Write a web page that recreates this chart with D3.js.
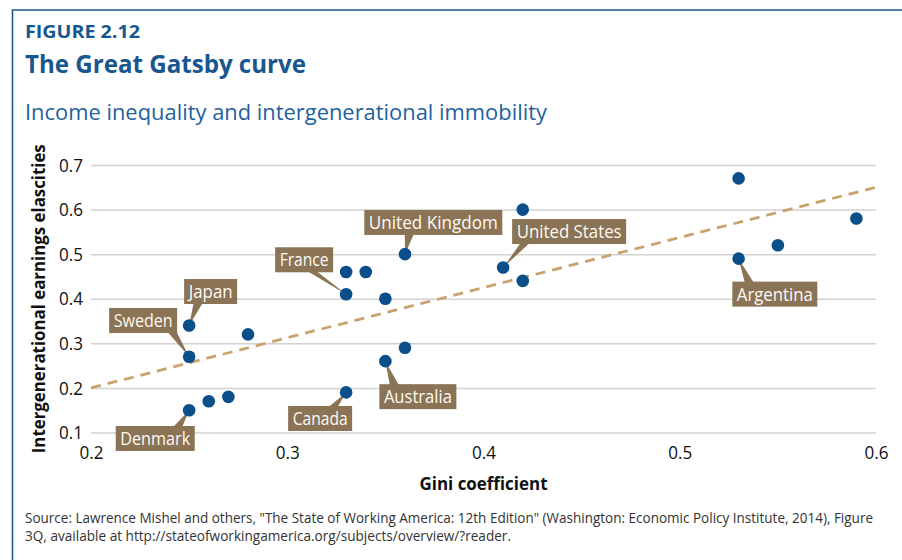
<!DOCTYPE html>
<html>
<head>
<meta charset="utf-8">
<script src="https://cdn.jsdelivr.net/npm/d3@7"></script>
<style>
  html, body { margin: 0; padding: 0; background: #fff; }
  svg { display: block; }
  text { font-family: "Open Sans", "Noto Sans", sans-serif; }
</style>
</head>
<body>
<svg id="chart" width="902" height="560"></svg>
<script>
// ---------- data ----------
const gini =       [0.25, 0.25, 0.25, 0.26, 0.27, 0.28, 0.33, 0.33, 0.33, 0.34, 0.35, 0.35, 0.36, 0.36, 0.41, 0.42, 0.42, 0.53, 0.53, 0.55, 0.59];
const elasticity = [0.34, 0.27, 0.15, 0.17, 0.18, 0.32, 0.46, 0.41, 0.19, 0.46, 0.40, 0.26, 0.50, 0.29, 0.47, 0.60, 0.44, 0.67, 0.49, 0.52, 0.58];
const countryLabels = ["Japan", "Sweden", "Denmark", "", "", "", "", "France", "Canada", "", "", "Australia", "United Kingdom", "", "United States", "", "", "", "Argentina", "", ""];
const trendGini = [0.2, 0.6];
const trendElasticity = [0.2, 0.65];
const xTickValues = [0.2, 0.3, 0.4, 0.5, 0.6];
const yTickValues = [0.1, 0.2, 0.3, 0.4, 0.5, 0.6, 0.7];
const figureLabel = "FIGURE 2.12";
const titleText = "The Great Gatsby curve";
const subtitleText = "Income inequality and intergenerational immobility";
const xAxisTitle = "Gini coefficient";
const yAxisTitle = "Intergenerational earnings elascities";
const sourceLines = [
  "Source: Lawrence Mishel and others, \"The State of Working America: 12th Edition\" (Washington: Economic Policy Institute, 2014), Figure",
  "3Q, available at http://stateofworkingamerica.org/subjects/overview/?reader."
];

// ---------- layout (label callout placement, px offsets from the dot) ----------
const calloutLayout = {
  "Japan":          { dx: -5,   dy: -46.5, w: 53,  ax: 14, edge: "bottom" },
  "Sweden":         { dx: -80,  dy: -48.7, w: 68,  ax: 63, edge: "bottom" },
  "France":         { dx: -71,  dy: -47,   w: 58,  ax: 37, edge: "bottom" },
  "Denmark":        { dx: -73.4,dy: 15.8,  w: 79,  ax: 62, edge: "top" },
  "Canada":         { dx: -58,  dy: 13.6,  w: 64,  ax: 45, edge: "top" },
  "Australia":      { dx: -6,   dy: 23,    w: 77,  ax: 15, edge: "top" },
  "United Kingdom": { dx: -40.7,dy: -44.2, w: 138, ax: 45, edge: "bottom" },
  "United States":  { dx: 9,    dy: -48.5, w: 114, ax: 13, edge: "bottom" },
  "Argentina":      { dx: -6.3, dy: 23,    w: 85,  ax: 17, edge: "top" }
};

const BLUE = "#17568f";
const DOT = "#0a4e8a";
const BROWN = "#8b7355";
const TREND = "#c9a26f";
const GRID = "#d2d2d2";

const svg = d3.select("#chart");
const plot = { left: 91, right: 876, top: 165, bottom: 432.5 };

const x = d3.scaleLinear().domain([0.2, 0.6]).range([plot.left, plot.right]);
const y = d3.scaleLinear().domain([0.1, 0.7]).range([plot.bottom, plot.top]);

// frame border (top + left)
svg.append("path")
  .attr("d", `M12.5,560 L12.5,10 L902,10`)
  .attr("fill", "none").attr("stroke", "#1d5a90").attr("stroke-width", 1.6);

// headings
function fitText(sel, width) {
  sel.attr("textLength", width).attr("lengthAdjust", "spacingAndGlyphs");
  return sel;
}
fitText(svg.append("text").attr("x", 25).attr("y", 37.5)
  .attr("font-size", 18).attr("font-weight", 700).attr("fill", BLUE)
  .text(figureLabel), 115);
fitText(svg.append("text").attr("x", 25).attr("y", 73)
  .attr("font-size", 25).attr("font-weight", 700).attr("fill", BLUE)
  .text(titleText), 281);
fitText(svg.append("text").attr("x", 25).attr("y", 120)
  .attr("font-size", 22).attr("font-weight", 400).attr("fill", "#1f5f9e")
  .text(subtitleText), 522);

// gridlines + y tick labels
const yAxis = d3.axisLeft(y).tickValues(yTickValues).tickFormat(d3.format(".1f"))
  .tickSize(-(plot.right - plot.left)).tickPadding(8);
const gy = svg.append("g").attr("transform", `translate(${plot.left},0)`).call(yAxis);
gy.select(".domain").remove();
gy.selectAll(".tick line").attr("stroke", GRID).attr("stroke-width", 1.5);
gy.selectAll(".tick text").attr("font-size", 18).attr("fill", "#111")
  .attr("font-family", "'Open Sans', sans-serif")
  .attr("x", -8).attr("dy", "0.34em")
  .attr("textLength", 24).attr("lengthAdjust", "spacingAndGlyphs");

const xAxis = d3.axisBottom(x).tickValues(xTickValues).tickFormat(d3.format(".1f"))
  .tickSize(0).tickPadding(0);
const gx = svg.append("g").attr("transform", `translate(0,${plot.bottom})`).call(xAxis);
gx.select(".domain").remove();
gx.selectAll(".tick text").attr("font-size", 18).attr("fill", "#111")
  .attr("font-family", "'Open Sans', sans-serif")
  .attr("dy", null).attr("y", 26.5)
  .attr("textLength", 24).attr("lengthAdjust", "spacingAndGlyphs");

// axis titles
fitText(svg.append("text").attr("x", (plot.left + plot.right) / 2).attr("y", 489.5)
  .attr("text-anchor", "middle").attr("font-size", 18).attr("font-weight", 700).attr("fill", "#111")
  .text(xAxisTitle), 128);
fitText(svg.append("text")
  .attr("transform", `translate(45,${(plot.top + plot.bottom) / 2}) rotate(-90)`)
  .attr("text-anchor", "middle").attr("font-size", 18).attr("font-weight", 700).attr("fill", "#111")
  .text(yAxisTitle), 309);

// trend line
svg.append("line")
  .attr("x1", x(trendGini[0])).attr("y1", y(trendElasticity[0]))
  .attr("x2", x(trendGini[1])).attr("y2", y(trendElasticity[1]))
  .attr("stroke", TREND).attr("stroke-width", 2.8).attr("stroke-dasharray", "10 7");

const points = gini.map((g, i) => ({ g, e: elasticity[i], name: countryLabels[i] }));

// callout wedges (under dots)
const labelled = points.filter(p => p.name && calloutLayout[p.name]);
const boxH = 25;
labelled.forEach(p => {
  const L = calloutLayout[p.name];
  const px = x(p.g), py = y(p.e);
  const bx = px + L.dx, by = py + L.dy;
  const ey = L.edge === "bottom" ? by + boxH - 1 : by + 1;
  const ax = bx + L.ax;
  svg.append("path")
    .attr("d", `M${ax - 4.5},${ey} L${ax + 4.5},${ey} L${px},${py} Z`)
    .attr("fill", BROWN);
});

// dots
svg.append("g").selectAll("circle").data(points).join("circle")
  .attr("cx", d => x(d.g)).attr("cy", d => y(d.e)).attr("r", 6.3)
  .attr("fill", DOT);

// callout boxes
labelled.forEach(p => {
  const L = calloutLayout[p.name];
  const px = x(p.g), py = y(p.e);
  const bx = px + L.dx, by = py + L.dy;
  svg.append("rect").attr("x", bx).attr("y", by).attr("width", L.w).attr("height", boxH)
    .attr("fill", BROWN);
  svg.append("text").attr("x", bx + L.w / 2).attr("y", by + 19)
    .attr("text-anchor", "middle").attr("font-size", 19).attr("fill", "#fdfaf4")
    .attr("textLength", L.w - 9).attr("lengthAdjust", "spacingAndGlyphs")
    .text(p.name);
});

// source (condensed horizontally to match the original's narrow face)
const srcScale = 0.86;
const srcG = svg.append("g").attr("transform", `translate(25,0) scale(${srcScale},1)`);
sourceLines.forEach((s, i) => {
  fitText(srcG.append("text").attr("x", 0).attr("y", 523 + i * 18)
    .attr("font-size", 14).attr("fill", "#333")
    .text(s), (i === 0 ? 848 : 486) / srcScale);
});
</script>
</body>
</html>
